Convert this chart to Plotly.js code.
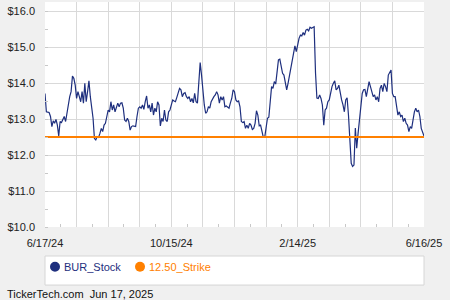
<!DOCTYPE html>
<html><head><meta charset="utf-8">
<script src="https://cdn.plot.ly/plotly-3.0.1.min.js"></script>
<style>html,body{margin:0;padding:0;background:#f0f0f0;}#chart{width:450px;height:300px;}</style>
</head><body><div id="chart"></div>
<script>
const startDate = '2024-06-17';
const endDate = '2025-06-16';
const stockPrices = [
13.71,13.20,13.19,13.18,13.07,12.79,12.95,12.88,12.99,12.83,12.53,12.93,12.90,12.97,13.07,12.93,13.16,13.44,13.62,13.76,
14.19,14.13,13.94,13.57,13.76,13.62,13.48,13.76,13.44,13.99,13.48,13.76,14.06,13.62,13.30,13.02,12.46,12.42,12.51,12.49,
12.60,12.74,12.65,12.83,12.88,13.11,13.25,13.20,13.48,13.25,13.39,13.20,13.30,13.44,13.34,13.44,13.45,13.30,12.97,12.93,
13.02,12.93,12.69,12.79,12.81,12.79,12.79,13.07,13.30,13.34,
13.30,13.39,13.27,13.48,13.64,13.30,13.39,13.20,13.44,13.11,13.30,13.20,13.48,13.39,12.81,13.02,12.93,13.25,12.97,12.93,
13.20,13.25,13.44,13.53,13.50,13.48,13.60,13.73,13.85,13.81,13.62,13.71,13.73,13.62,13.57,13.62,13.48,13.57,13.45,13.71,
13.48,13.44,13.99,14.57,14.22,13.71,13.39,13.16,13.20,13.34,13.30,13.48,13.57,13.62,13.67,13.76,13.67,13.44,13.62,13.53,
13.62,13.34,13.36,13.32,13.30,13.45,13.57,13.81,
13.76,13.53,13.48,13.50,13.34,12.93,12.90,12.93,12.74,12.83,12.74,12.88,12.83,12.71,12.74,12.88,13.23,13.11,12.81,12.83,
12.69,12.49,12.49,12.79,13.02,13.05,13.44,13.90,13.85,14.04,13.97,14.36,14.64,14.66,14.45,14.27,14.22,13.99,13.81,13.99,
14.18,14.36,14.55,14.78,15.03,14.87,15.06,15.24,15.33,15.31,15.40,15.33,15.47,15.49,15.45,15.55,15.52,15.55,15.56,14.28,
13.58,13.57,13.67,13.57,13.39,12.83,13.25,13.30,13.48,
13.53,13.76,13.90,13.99,14.06,13.81,13.85,13.94,13.71,13.53,13.39,13.20,13.53,13.59,13.11,12.23,11.77,11.68,11.72,12.75,
12.19,12.60,13.02,13.44,13.71,13.81,13.82,13.62,13.85,14.04,13.90,13.76,13.62,13.67,13.53,13.62,13.48,13.85,13.94,13.76,
13.99,13.90,13.76,14.22,14.31,14.36,13.71,13.62,13.62,13.39,13.11,13.20,13.07,13.11,12.93,13.02,12.88,12.83,12.65,12.79,
12.74,12.97,13.20,13.30,13.20,13.25,13.07,12.74,12.65,12.53
];
const strikePrice = 12.5;
const xTickLabels = ['6/17/24','','','','10/15/24','','','','2/14/25','','','','6/16/25'];
const yTickValues = [10,11,12,13,14,15,16];
const yTickLabels = ['$10.0','$11.0','$12.0','$13.0','$14.0','$15.0','$16.0'];
const yRange = [10,16.25];
const seriesNames = ['BUR_Stock','12.50_Strike'];
const seriesColors = ['#1e2f7e','#ff8000'];
const footerText = 'TickerTech.com\u00a0 Jun 17, 2025';

function fmt(ms){ return new Date(ms).toISOString().slice(0,19).replace('T',' '); }
const t0 = Date.parse(startDate+'T00:00:00Z');
const t1 = Date.parse(endDate+'T00:00:00Z');
const n = stockPrices.length;
const stockDates = stockPrices.map((_,i)=>fmt(t0+(t1-t0)*i/(n-1)));
const nT = xTickLabels.length;
const xTickVals = xTickLabels.map((_,i)=>fmt(t0+(t1-t0)*i/(nT-1)));
const xMinorVals = [];
for(let i=0;i<nT-1;i++) xMinorVals.push(fmt(t0+(t1-t0)*(i+0.5)/(nT-1)));

const traces = [
  {x: stockDates, y: stockPrices, type:'scatter', mode:'lines', name:seriesNames[0], line:{color:seriesColors[0], width:1.2}, showlegend:false, hoverinfo:'skip'},
  {x: [startDate, endDate], y:[strikePrice, strikePrice], type:'scatter', mode:'lines', name:seriesNames[1], line:{color:seriesColors[1], width:1.8}, showlegend:false, hoverinfo:'skip'}
];

// legend drawn as a boxed key below the plot
const legY = -0.1764;
const legendMarkerX = [0.0264, 0.2507];
const legendTextX = [0.0449, 0.2691];
const shapes = [{type:'rect', xref:'paper', yref:'paper', x0:0, x1:1, y0:-0.129, y1:-0.258, line:{color:'#d6d6d6', width:1}, fillcolor:'#ffffff', layer:'below'}];
const annotations = [{text:footerText, xref:'paper', yref:'paper', x:-0.106, y:-0.298, xanchor:'left', yanchor:'middle', showarrow:false, font:{size:11, color:'#111'}}];
seriesNames.forEach((nm,i)=>{
  shapes.push({type:'circle', xref:'paper', yref:'paper', xsizemode:'pixel', ysizemode:'pixel', xanchor:legendMarkerX[i], yanchor:legY,
    x0:-5, x1:5, y0:-5, y1:5, fillcolor:seriesColors[i], line:{width:0}, layer:'above'});
  annotations.push({text:nm, xref:'paper', yref:'paper', x:legendTextX[i], y:legY, xanchor:'left', yanchor:'middle', showarrow:false,
    font:{size:11, color:seriesColors[i]}});
});

const layout = {
  width:450, height:300,
  margin:{l:45, r:26, t:2, b:73},
  paper_bgcolor:'#f0f0f0', plot_bgcolor:'#ffffff',
  font:{family:'"Liberation Sans", Arial, sans-serif', size:11, color:'#222'},
  xaxis:{type:'date', range:[startDate, endDate], tickmode:'array', tickvals:xTickVals, ticktext:xTickLabels,
    showgrid:true, gridcolor:'#d9d9d9', gridwidth:1, zeroline:false, showline:false, ticks:'', ticklabelstandoff:8,
    minor:{tickmode:'array', tickvals:xMinorVals, ticks:'inside', ticklen:3, tickcolor:'#c8c8c8', showgrid:false}},
  yaxis:{range:yRange, tickmode:'array', tickvals:yTickValues, ticktext:yTickLabels,
    showgrid:true, gridcolor:'#d9d9d9', gridwidth:1, zeroline:false, showline:false, ticks:'', ticklabelstandoff:9,
    minor:{tickmode:'linear', tick0:10, dtick:0.5, ticks:'inside', ticklen:3, tickcolor:'#c8c8c8', showgrid:false}},
  showlegend:false,
  shapes: shapes,
  annotations: annotations
};
Plotly.newPlot('chart', traces, layout, {displayModeBar:false, staticPlot:true});
</script></body></html>
